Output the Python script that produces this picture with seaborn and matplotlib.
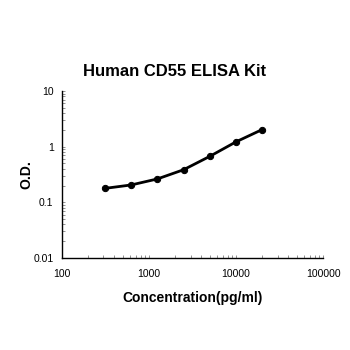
import matplotlib
matplotlib.use("Agg")
import matplotlib.pyplot as plt
import seaborn as sns
import pandas as pd
import numpy as np
from matplotlib.ticker import LogLocator, NullFormatter

sns.set_style("white")
plt.rcParams['font.family'] = ['Liberation Sans', 'DejaVu Sans']
plt.rcParams['text.color'] = 'black'
plt.rcParams['axes.labelcolor'] = 'black'
plt.rcParams['xtick.color'] = 'black'
plt.rcParams['ytick.color'] = 'black'

concentration = [312.5, 625, 1250, 2500, 5000, 10000, 20000]
od = [0.178, 0.205, 0.263, 0.385, 0.67, 1.22, 2.03]
x_ticks = [100, 1000, 10000, 100000]
x_labels = ["100", "1000", "10000", "100000"]
y_ticks = [0.01, 0.1, 1, 10]
y_labels = ["0.01", "0.1", "1", "10"]

df = pd.DataFrame({"conc": concentration, "od": od})

fig = plt.figure(figsize=(3.5, 3.5), dpi=100)
ax = fig.add_axes([0.177, 0.263, 0.746, 0.477])
sns.lineplot(data=df, x="conc", y="od", ax=ax, color="black", linewidth=2,
             marker="o", markersize=4.5, markeredgecolor="black")
ax.set_xscale("log")
ax.set_yscale("log")
ax.set_xlim(100, 100000)
ax.set_ylim(0.01, 10)
ax.set_xticks(x_ticks)
ax.set_xticklabels(x_labels)
ax.set_yticks(y_ticks)
ax.set_yticklabels(y_labels)
ax.xaxis.set_minor_locator(LogLocator(base=10, subs=np.arange(2, 10)))
ax.yaxis.set_minor_locator(LogLocator(base=10, subs=np.arange(2, 10)))
ax.xaxis.set_minor_formatter(NullFormatter())
ax.yaxis.set_minor_formatter(NullFormatter())
for s in ["top", "right"]:
    ax.spines[s].set_visible(False)
for s in ["left", "bottom"]:
    ax.spines[s].set_color("black")
    ax.spines[s].set_linewidth(1.0)
ax.tick_params(axis="both", which="major", direction="in", length=2.5, width=0.6,
               labelsize=7.5, color="gray", labelcolor="black", left=True, bottom=True)
ax.tick_params(axis="x", which="major", pad=8)
ax.tick_params(axis="y", which="major", pad=6)
ax.tick_params(axis="both", which="minor", direction="in", length=2.5, width=0.6,
               color="gray", left=True, bottom=True)
ax.set_xlabel("Concentration(pg/ml)", fontsize=10, fontweight="bold", color="black")
ax.xaxis.set_label_coords(0.5, -0.2)
ax.set_ylabel("O.D.", fontsize=10, fontweight="bold", color="black")
ax.yaxis.set_label_coords(-0.11, 0.5)
fig.text(0.5, 1 - 71 / 350, "Human CD55 ELISA Kit", fontsize=12, fontweight="bold",
         ha="center", va="center", color="black")
ax.grid(False)
fig.savefig("out.png", dpi=100)
